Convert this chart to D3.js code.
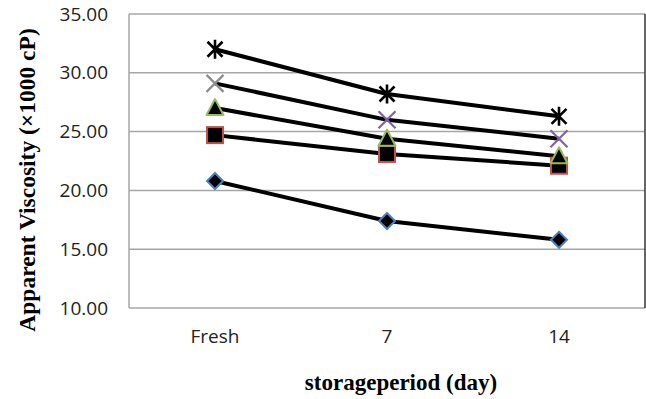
<!DOCTYPE html>
<html>
<head>
<meta charset="utf-8">
<script src="https://cdn.jsdelivr.net/npm/d3@7"></script>
<style>
  html, body { margin: 0; padding: 0; background: #fff; }
  svg { display: block; }
</style>
</head>
<body>
<svg id="chart" width="646" height="399"></svg>
<script>
// Storage periods on the x axis
const categories = ["Fresh", "7", "14"];

// Apparent viscosity (x1000 cP) of each sample over storage
const seriesDiamond  = [20.8, 17.4, 15.8];
const seriesSquare   = [24.7, 23.1, 22.1];
const seriesTriangle = [27.0, 24.4, 22.9];
const seriesCross    = [29.1, 26.0, 24.4];
const seriesStar     = [32.0, 28.2, 26.3];

// Y axis ticks
const yTicks = [10, 15, 20, 25, 30, 35];

const xTitle = "storageperiod (day)";
const yTitle = "Apparent Viscosity (\u00d71000 cP)";

const series = [
  { name: "diamond",  values: seriesDiamond,  marker: "diamond",  edge: "#4f81bd" },
  { name: "square",   values: seriesSquare,   marker: "square",   edge: "#c0504d" },
  { name: "triangle", values: seriesTriangle, marker: "triangle", edge: "#9bbb59" },
  { name: "cross",    values: seriesCross,    marker: "cross",    edge: "#8064a2" },
  { name: "star",     values: seriesStar,     marker: "star",     edge: "#000000" }
];

const svg = d3.select("#chart");
const margin = { left: 129, top: 14, right: 1, bottom: 91 };
const W = 646, H = 399;
const plotW = W - margin.left - margin.right;
const plotH = H - margin.top - margin.bottom;

const x = d3.scaleBand().domain(categories).range([margin.left, margin.left + plotW]);
const y = d3.scaleLinear().domain([10, 35]).range([margin.top + plotH, margin.top]);
const cx = c => x(c) + x.bandwidth() / 2;

// Horizontal gridlines
svg.append("g")
  .selectAll("line")
  .data(yTicks)
  .join("line")
  .attr("x1", margin.left).attr("x2", margin.left + plotW)
  .attr("y1", d => y(d)).attr("y2", d => y(d))
  .attr("stroke", "#a6a6a6").attr("stroke-width", 1.5);

// Left axis line
svg.append("line")
  .attr("x1", margin.left).attr("x2", margin.left)
  .attr("y1", y(35)).attr("y2", y(10))
  .attr("stroke", "#a6a6a6").attr("stroke-width", 1.5);

// Right frame edge
svg.append("line")
  .attr("x1", W - 1).attr("x2", W - 1)
  .attr("y1", y(35)).attr("y2", y(10))
  .attr("stroke", "#333").attr("stroke-width", 1.5);

// Y tick labels
const yAxis = d3.axisLeft(y).tickValues(yTicks).tickFormat(d3.format(".2f")).tickSize(0).tickPadding(21);
const gy = svg.append("g").attr("transform", `translate(${margin.left},0)`).call(yAxis);
gy.select(".domain").remove();
gy.selectAll("text")
  .attr("font-family", "'Open Sans', sans-serif")
  .attr("font-size", 19).attr("fill", "#222");

// X tick labels
const xAxis = d3.axisBottom(x).tickSize(0).tickPadding(22);
const gx = svg.append("g").attr("transform", `translate(0,${y(10)})`).call(xAxis);
gx.select(".domain").remove();
gx.selectAll("text")
  .attr("font-family", "'Open Sans', sans-serif")
  .attr("font-size", 19).attr("fill", "#222");

// Series lines
const line = d3.line().x((d, i) => cx(categories[i])).y(d => y(d));
svg.append("g")
  .selectAll("path")
  .data(series)
  .join("path")
  .attr("d", d => line(d.values))
  .attr("fill", "none")
  .attr("stroke", "#000")
  .attr("stroke-width", 4)
  .attr("stroke-linejoin", "round");

// Markers
const gm = svg.append("g");
series.forEach(s => {
  s.values.forEach((v, i) => {
    const g = gm.append("g").attr("transform", `translate(${cx(categories[i])},${y(v)})`);
    if (s.marker === "diamond") {
      g.append("path").attr("d", "M0,-8L8,0L0,8L-8,0Z")
        .attr("fill", "#000").attr("stroke", s.edge).attr("stroke-width", 2);
    } else if (s.marker === "square") {
      g.append("rect").attr("x", -8).attr("y", -8).attr("width", 16).attr("height", 16)
        .attr("fill", "#000").attr("stroke", s.edge).attr("stroke-width", 2);
    } else if (s.marker === "triangle") {
      g.append("path").attr("d", "M0,-9L8.5,7L-8.5,7Z")
        .attr("fill", "#000").attr("stroke", s.edge).attr("stroke-width", 2).attr("stroke-linejoin", "round");
    } else if (s.marker === "cross") {
      const col = i === 0 ? "#8c8c8c" : s.edge;
      g.append("path").attr("d", "M-8.5,-8.5L8.5,8.5M-8.5,8.5L8.5,-8.5")
        .attr("stroke", col).attr("stroke-width", 2.2);
    } else if (s.marker === "star") {
      g.append("path").attr("d", "M-7.5,-7.5L7.5,7.5M-7.5,7.5L7.5,-7.5M0,-9.5L0,9.5")
        .attr("stroke", "#000").attr("stroke-width", 2.6);
    }
  });
});

// Axis titles
svg.append("text")
  .attr("x", 401).attr("y", 390)
  .attr("text-anchor", "middle")
  .attr("font-family", "'Liberation Serif', 'Times New Roman', serif")
  .attr("font-weight", "bold").attr("font-size", 23)
  .text(xTitle);

svg.append("text")
  .attr("transform", "translate(35,180) rotate(-90)")
  .attr("text-anchor", "middle")
  .attr("font-family", "'Liberation Serif', 'Times New Roman', serif")
  .attr("font-weight", "bold").attr("font-size", 23.5)
  .text(yTitle);
</script>
</body>
</html>
